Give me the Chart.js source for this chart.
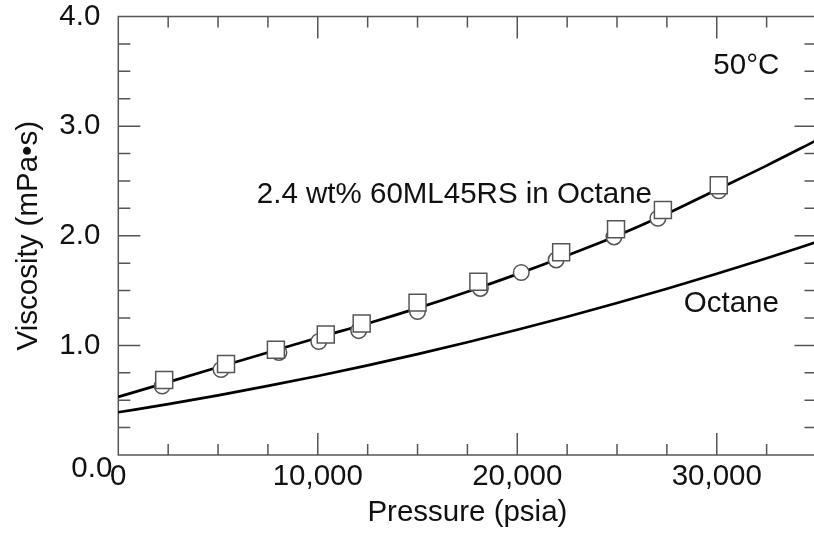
<!DOCTYPE html>
<html><head><meta charset="utf-8">
<script src="https://cdn.jsdelivr.net/npm/chart.js@4.4.1/dist/chart.umd.min.js"></script>
<style>
html,body{margin:0;padding:0;background:#fff;overflow:hidden}
#wrap{width:814px;height:535px;overflow:hidden;position:relative;background:#fff}
canvas{display:block}
</style></head>
<body>
<div id="wrap"><canvas id="c" width="830" height="535"></canvas></div>
<script>
// ---- data ----
const curvePressure = [0,2500,5000,7500,10000,12500,15000,17500,20000,22500,25000,27500,30000,32500,35000];
const mixtureCurve  = [0.53,0.665,0.80,0.935,1.07,1.20,1.34,1.49,1.65,1.82,2.00,2.20,2.42,2.64,2.87];
const octaneCurve   = [0.39,0.464,0.544,0.630,0.721,0.818,0.920,1.028,1.142,1.261,1.386,1.517,1.653,1.795,1.943];

const circlePressure  = [2200,5150,8050,10050,12050,15000,18150,20200,21950,24850,27050,30100];
const circleViscosity = [0.63,0.78,0.935,1.035,1.135,1.31,1.52,1.665,1.78,1.99,2.16,2.41];

const squarePressure  = [2300,5400,7900,10400,12200,15000,18050,22200,24950,27300,30100];
const squareViscosity = [0.685,0.83,0.96,1.10,1.20,1.39,1.58,1.85,2.06,2.235,2.46];

const xTickValues = [0,10000,20000,30000];
const yTickValues = [1,2,3,4];
const yZeroLabel = '0.0';

const annotationTexts     = ['50°C','2.4 wt% 60ML45RS in Octane','Octane'];
const annotationPressure  = [31480,16850,30730];
const annotationViscosity = [3.55,2.37,1.378];

// ---- styling ----
const FONT = '"Liberation Sans", Arial, Helvetica, sans-serif';
const FS = 29.5;
const AXIS_COLOR = '#555';
const TEXT_COLOR = '#111';

const pts = (xs, ys) => xs.map((x,i)=>({x, y: ys[i]}));

const framePlugin = {
  id: 'frame',
  beforeDatasetsDraw(chart){
    const {ctx, chartArea:a, scales:{x, y}} = chart;
    ctx.save();
    ctx.strokeStyle = AXIS_COLOR;
    ctx.lineWidth = 1.5;
    ctx.strokeRect(a.left, a.top, a.right - a.left, a.bottom - a.top);
    ctx.beginPath();
    for (let v = 2500; v < x.max; v += 2500){
      const px = x.getPixelForValue(v);
      const len = v % 10000 === 0 ? 22 : 11;
      ctx.moveTo(px, a.bottom); ctx.lineTo(px, a.bottom - len);
      ctx.moveTo(px, a.top); ctx.lineTo(px, a.top + len);
    }
    for (let v = 0.25; v < y.max - 1e-9; v += 0.25){
      const py = y.getPixelForValue(v);
      const len = Math.abs(v - Math.round(v)) < 1e-9 ? 22 : 12;
      ctx.moveTo(a.left, py); ctx.lineTo(a.left + len, py);
      ctx.moveTo(a.right, py); ctx.lineTo(a.right - len, py);
    }
    ctx.stroke();
    ctx.restore();
  },
  afterDraw(chart){
    const {ctx, chartArea:a, scales:{x, y}} = chart;
    ctx.save();
    ctx.fillStyle = TEXT_COLOR;
    ctx.font = FS + 'px ' + FONT;
    ctx.textAlign = 'right';
    ctx.textBaseline = 'middle';
    ctx.fillText(yZeroLabel, a.left - 6, y.getPixelForValue(0) + 14);
    ctx.textAlign = 'center';
    annotationTexts.forEach((t,i)=>{
      ctx.fillText(t, x.getPixelForValue(annotationPressure[i]), y.getPixelForValue(annotationViscosity[i]));
    });
    ctx.restore();
  }
};

new Chart(document.getElementById('c'), {
  type: 'scatter',
  data: {
    datasets: [
      { label:'2.4 wt% 60ML45RS in Octane (fit)', type:'line', data: pts(curvePressure, mixtureCurve),
        borderColor:'#000', borderWidth:2.7, pointRadius:0, cubicInterpolationMode:'monotone', fill:false, order:3, clip:false },
      { label:'Octane', type:'line', data: pts(curvePressure, octaneCurve),
        borderColor:'#000', borderWidth:2.7, pointRadius:0, cubicInterpolationMode:'monotone', fill:false, order:3, clip:false },
      { label:'circles', data: pts(circlePressure, circleViscosity), showLine:false,
        pointStyle:'circle', pointRadius:7.8, backgroundColor:'#fff', borderColor:AXIS_COLOR, borderWidth:1.5, order:2 },
      { label:'squares', data: pts(squarePressure, squareViscosity), showLine:false,
        pointStyle:'rect', pointRadius:12, backgroundColor:'#fff', borderColor:AXIS_COLOR, borderWidth:1.5, order:1 }
    ]
  },
  options: {
    responsive:false,
    animation:false,
    devicePixelRatio:1,
    layout:{ padding:{ top:16.5, right:8, left:0, bottom:0 } },
    plugins:{ legend:{display:false}, tooltip:{enabled:false} },
    scales:{
      x:{
        type:'linear', min:0, max:35000,
        grid:{display:false}, border:{display:false},
        afterFit(s){ s.height = 80; },
        afterBuildTicks(s){ s.ticks = xTickValues.map(v=>({value:v})); },
        ticks:{ padding:-1, color:TEXT_COLOR, font:{family:FONT,size:FS,lineHeight:1.0}, maxRotation:0,
                callback:(v)=> Number(v).toLocaleString('en-US') },
        title:{ display:true, text:'Pressure (psia)', color:TEXT_COLOR, font:{family:FONT,size:FS}, padding:{top:0,bottom:4} }
      },
      y:{
        type:'linear', min:0, max:4,
        grid:{display:false}, border:{display:false},
        afterFit(s){ s.width = 118.3; },
        afterBuildTicks(s){ s.ticks = yTickValues.map(v=>({value:v})); },
        ticks:{ padding:10, color:TEXT_COLOR, font:{family:FONT,size:FS,lineHeight:0.4},
                callback:(v)=> Number(v).toFixed(1) },
        title:{ display:true, text:'Viscosity (mPa•s)', color:TEXT_COLOR, font:{family:FONT,size:FS}, padding:{top:11,bottom:0} }
      }
    }
  },
  plugins:[framePlugin]
});
</script>
</body></html>
